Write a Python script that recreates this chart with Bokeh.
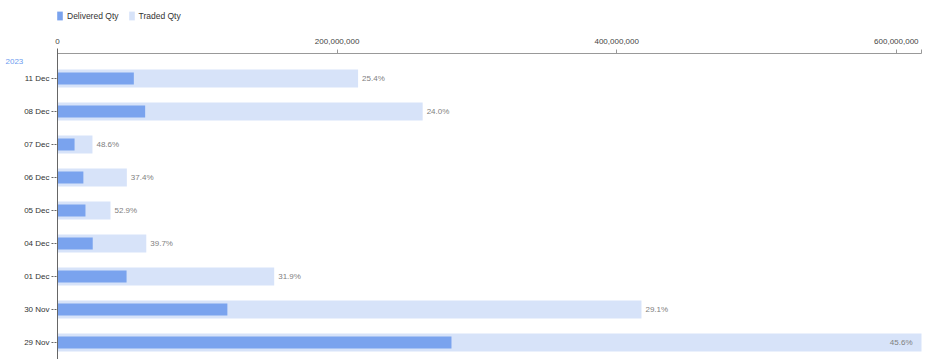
from bokeh.plotting import figure
from bokeh.models import (ColumnDataSource, Range1d, FixedTicker, NumeralTickFormatter,
                          Legend, LegendItem, Label)
from bokeh.embed import file_html
from bokeh.resources import INLINE
from bokeh.core.properties import value

# ---- data ----
dates = ["29 Nov", "30 Nov", "01 Dec", "04 Dec", "05 Dec", "06 Dec", "07 Dec", "08 Dec", "11 Dec"]
traded_qty = [618.0e6, 417.7e6, 155.0e6, 63.5e6, 37.9e6, 49.6e6, 25.0e6, 261.2e6, 215.0e6]
delivered_qty = [281.8e6, 121.5e6, 49.4e6, 25.2e6, 20.0e6, 18.5e6, 12.2e6, 62.7e6, 54.6e6]
pct_labels = ["45.6%", "29.1%", "31.9%", "39.7%", "52.9%", "37.4%", "48.6%", "24.0%", "25.4%"]
x_ticks = [0, 200e6, 400e6, 600e6]
year_label = "2023"

# ---- layout constants (pixels) ----
W, H = 940, 359
PLOT_LEFT = 57      # x pixel of value 0
PLOT_RIGHT = 921    # x pixel of the largest bar end
AXIS_TOP = 53       # y pixel of the top axis line
YLINE_TOP = 48      # y pixel where the left axis line starts
ROW_PX = 33         # pixels per row
LAST_ROW_PX = 342   # y pixel of the bottom row centre

FONT = "Liberation Sans"
DELIV = "#7AA3EE"
TRADED = "#D7E3F9"

pos = list(range(len(dates)))
xmax = max(traded_qty)
per_px = xmax / (PLOT_RIGHT - PLOT_LEFT)
x_start = -PLOT_LEFT * per_px
x_end = (W - PLOT_LEFT) * per_px
y_start = -(H - LAST_ROW_PX) / ROW_PX
y_end = LAST_ROW_PX / ROW_PX
y_axis_top = (LAST_ROW_PX - AXIS_TOP) / ROW_PX
y_line_top = (LAST_ROW_PX - YLINE_TOP) / ROW_PX

src = ColumnDataSource(dict(y=pos, traded=traded_qty, delivered=delivered_qty, pct=pct_labels))

p = figure(width=W, height=H, output_backend="svg", toolbar_location=None,
           x_range=Range1d(x_start, x_end), y_range=Range1d(y_start, y_end),
           x_axis_location="above", min_border=0)
p.outline_line_color = None
p.grid.visible = False
p.background_fill_color = "white"
p.border_fill_color = "white"

r_tr = p.hbar(y="y", right="traded", left=0, height=0.55, source=src,
              fill_color=TRADED, line_color=None)
r_dl = p.hbar(y="y", right="delivered", left=0, height=0.36, source=src,
              fill_color=DELIV, line_color=None)

# percentage labels
outside = [i for i in pos if traded_qty[i] < 0.9 * xmax]
inside = [i for i in pos if traded_qty[i] >= 0.9 * xmax]
src_out = ColumnDataSource(dict(y=[pos[i] for i in outside], x=[traded_qty[i] for i in outside],
                                t=[pct_labels[i] for i in outside]))
src_in = ColumnDataSource(dict(y=[pos[i] for i in inside], x=[traded_qty[i] for i in inside],
                               t=[pct_labels[i] for i in inside]))
p.text(x="x", y="y", text="t", source=src_out, x_offset=4, text_align="left",
       text_baseline="middle", text_font=value(FONT), text_font_size="8px", text_color="#808080")
p.text(x="x", y="y", text="t", source=src_in, x_offset=-9, text_align="right",
       text_baseline="middle", text_font=value(FONT), text_font_size="8px", text_color="#808080")

# x axis (top); an unlabelled tick closes the axis line at its end
xa = p.xaxis[0]
xa.fixed_location = y_axis_top
xa.bounds = (0, xmax)
xa.ticker = FixedTicker(ticks=x_ticks + [xmax])
xa.formatter = NumeralTickFormatter(format="0,0")
xa.major_label_overrides = {xmax: ""}
xa.major_tick_out = 4
xa.major_tick_in = 0
xa.minor_tick_line_color = None
xa.axis_line_color = "#999999"
xa.major_tick_line_color = "#999999"
xa.major_label_text_font = FONT
xa.major_label_text_font_size = "8px"
xa.major_label_text_color = "#444444"
xa.major_label_standoff = 6

# y axis
ya = p.yaxis[0]
ya.fixed_location = 0
ya.bounds = (y_start, y_line_top)
ya.ticker = FixedTicker(ticks=pos)
ya.major_label_overrides = {i: d for i, d in zip(pos, dates)}
ya.major_tick_out = 6
ya.major_tick_in = 0
ya.major_tick_line_dash = "2 1"
ya.major_tick_line_color = "#666666"
ya.minor_tick_line_color = None
ya.axis_line_color = "#666666"
ya.major_label_text_font = FONT
ya.major_label_text_font_size = "8px"
ya.major_label_text_color = "#333333"
ya.major_label_standoff = 2

# legend (bottom-left corner given in pixels from the frame's bottom-left)
legend = Legend(items=[LegendItem(label="Delivered Qty", renderers=[r_dl]),
                       LegendItem(label="Traded Qty", renderers=[r_tr])],
                orientation="horizontal", location=(56, H - 21),
                glyph_width=7, glyph_height=11, label_standoff=4, spacing=9,
                padding=0, margin=0, border_line_color=None, background_fill_alpha=0,
                label_text_font=FONT, label_text_font_size="8.5px", label_text_color="#333333",
                label_height=11)
p.add_layout(legend, "center")

# year label
p.add_layout(Label(x=5, y=H - 61, x_units="screen", y_units="screen", text=year_label,
                   text_font=FONT, text_font_size="8px", text_color="#6C9BEF",
                   text_baseline="middle", text_align="left"))

open("out.html", "w").write(file_html(p, INLINE))
